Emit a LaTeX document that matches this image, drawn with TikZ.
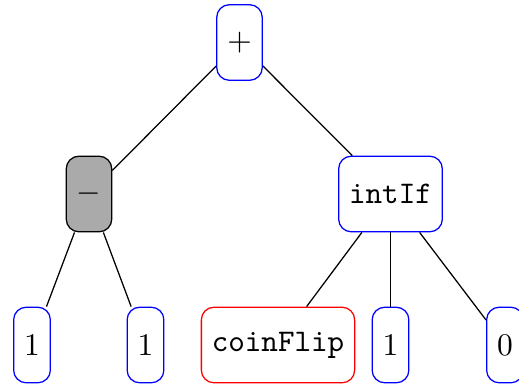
\documentclass[tikz,border=0pt]{standalone}
\definecolor{opfill}{HTML}{AAAAAA}
\begin{document}
\begin{tikzpicture}[x=0.3175pt,y=-0.3175pt,
  tnode/.style={draw,rounded corners=4pt,minimum height=24pt,inner xsep=3.33pt,line width=0.4pt},
  valnode/.style={tnode,draw=blue},
  rndnode/.style={tnode,draw=red},
  opnode/.style={tnode,draw=black,fill=opfill},
  edge/.style={draw=black,line width=0.4pt}]
\useasboundingbox (0,0) rectangle (519,386);
\clip (0,0) rectangle (519,386);
% operator nodes
\node[valnode] (plus)  at (239.5,42.5) {$+$};
\node[opnode]  (minus) at (89,194) {$-$};
\node[valnode] (ifn)   at (390.5,194) {\texttt{intIf}};
% leaves
\node[valnode] (oneA)  at (32,345) {1};
\node[valnode] (oneB)  at (145.5,345) {1};
\node[rndnode] (coin)  at (278,345) {\texttt{coinFlip}};
\node[valnode] (oneC)  at (390.5,345) {1};
\node[valnode] (zero)  at (505,345) {0};
% tree edges
\draw[edge] (plus) -- (minus);
\draw[edge] (plus) -- (ifn);
\draw[edge] (minus) -- (oneA);
\draw[edge] (minus) -- (oneB);
\draw[edge] (ifn) -- (coin);
\draw[edge] (ifn) -- (oneC);
\draw[edge] (ifn) -- (zero);
\end{tikzpicture}
\end{document}
